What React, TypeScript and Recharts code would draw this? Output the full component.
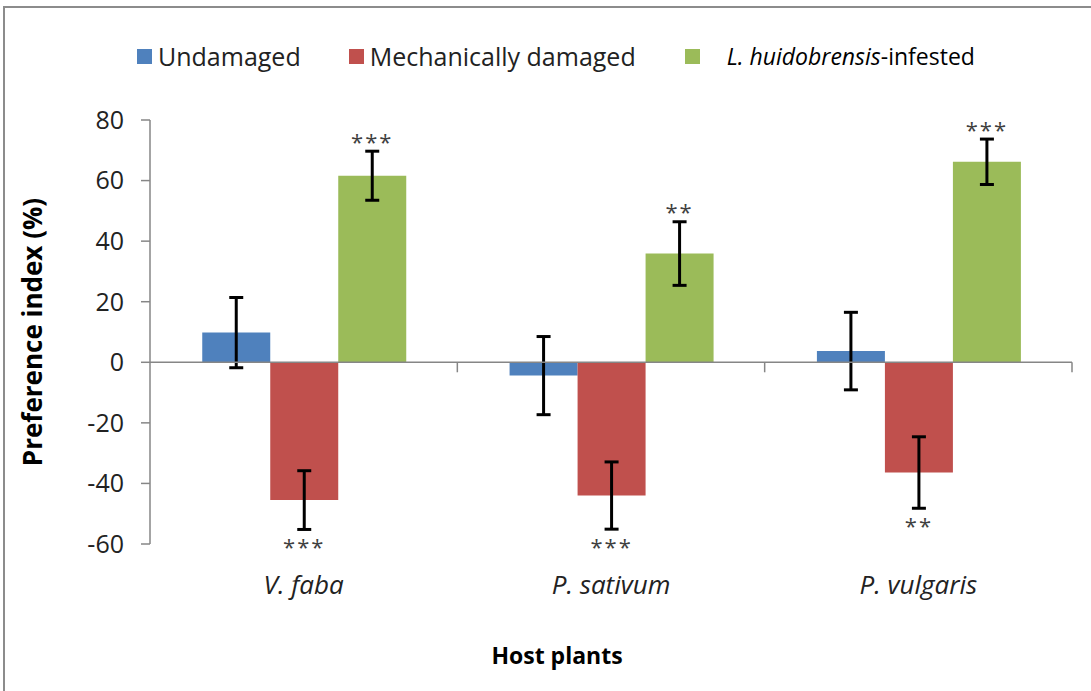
import { BarChart, Bar, XAxis, YAxis, ReferenceLine, ErrorBar, LabelList } from 'recharts'

const hosts = ['V. faba', 'P. sativum', 'P. vulgaris']
const undamaged = [9.8, -4.4, 3.7]
const undamagedErr = [11.6, 12.9, 12.8]
const mechanical = [-45.5, -44.0, -36.4]
const mechanicalErr = [9.7, 11.1, 11.8]
const infested = [61.6, 35.9, 66.2]
const infestedErr = [8.1, 10.5, 7.5]
const mechanicalSig = ['***', '***', '**']
const infestedSig = ['***', '**', '***']
const yTicks = [-60, -40, -20, 0, 20, 40, 60, 80]

const chartData = hosts.map((name, i) => ({
  name,
  undamaged: undamaged[i],
  undamagedErr: undamagedErr[i],
  mechanical: mechanical[i],
  mechanicalErr: mechanicalErr[i],
  mechanicalSig: mechanicalSig[i],
  infested: infested[i],
  infestedErr: infestedErr[i],
  infestedSig: infestedSig[i],
}))

const BLUE = '#4F81BD'
const RED = '#C0504D'
const GREEN = '#9BBB59'
const AXIS = '#868686'
const FONT = '"Open Sans", "Noto Sans", sans-serif'

// stars sit just past the end of the error bar
const starLabel = (vals: number[], errs: number[]) => (props: any) => {
  const vb = props.viewBox || props
  const { x, y, width, height } = vb
  const i = props.index
  if (!props.value || i == null) return null
  const v = vals[i]
  const ppu = Math.abs(height) / Math.abs(v)
  const top = Math.min(y, y + height)
  const bottom = Math.max(y, y + height)
  const center = v > 0 ? top - errs[i] * ppu - 13.5 : bottom + errs[i] * ppu + 13.5
  return (
    <text x={x + width / 2} y={center + 12} textAnchor="middle" fontSize={22} fill="#404040"
      fontFamily={FONT} letterSpacing={2}>
      {props.value}
    </text>
  )
}

const zeroLine = (props: any) => {
  const { x1, y1, x2 } = props
  const step = (x2 - x1) / hosts.length
  return (
    <g>
      <line x1={x1} y1={y1} x2={x2} y2={y1} stroke={AXIS} strokeWidth={1.5} />
      {hosts.map((_, k) => (
        <line key={k} x1={x1 + step * (k + 1)} y1={y1} x2={x1 + step * (k + 1)} y2={y1 + 10}
          stroke={AXIS} strokeWidth={1.5} />
      ))}
    </g>
  )
}

function LegendItem({ color, children, gap }: { color: string; children: any; gap: number }) {
  return (
    <div style={{ display: 'flex', alignItems: 'center' }}>
      <div style={{ width: 15, height: 15, background: color, marginRight: gap }} />
      {children}
    </div>
  )
}

export default function App() {
  return (
    <div style={{ position: 'absolute', left: 0, top: 0, width: 1091, height: 691, background: '#fff', fontFamily: FONT }}>
      <div style={{ position: 'absolute', left: 3, top: 6, right: 0, bottom: 0,
        borderTop: '2px solid #8c8c8c', borderLeft: '2px solid #8c8c8c' }} />
      <div style={{ position: 'absolute', left: 137, top: 38, height: 36, display: 'flex', alignItems: 'center', color: '#222' }}>
        <LegendItem color={BLUE} gap={6}><span style={{ fontSize: 25 }}>Undamaged</span></LegendItem>
        <div style={{ width: 48 }} />
        <LegendItem color={RED} gap={6}><span style={{ fontSize: 25 }}>Mechanically damaged</span></LegendItem>
        <div style={{ width: 49 }} />
        <LegendItem color={GREEN} gap={27}>
          <span style={{ fontSize: 23, color: '#000' }}><i>L. huidobrensis</i>-infested</span>
        </LegendItem>
      </div>
      <BarChart width={1091} height={691} data={chartData} barCategoryGap="17%" barGap={0}
        margin={{ top: 120, right: 19, left: 0, bottom: 17 }}>
        <XAxis dataKey="name" axisLine={false} tickLine={false} tickSize={0} tickMargin={32} height={130}
          tick={{ fontSize: 26, fontStyle: 'italic', fill: '#222', fontFamily: FONT }}
          label={{ value: 'Host plants', position: 'insideBottom', offset: 10, dx: -54,
            style: { fontSize: 23, fontWeight: 700, fill: '#000', fontFamily: FONT } }} />
        <YAxis domain={[-60, 80]} ticks={yTicks} width={150} tickSize={9} tickMargin={17}
          axisLine={{ stroke: AXIS, strokeWidth: 1.5 }} tickLine={{ stroke: AXIS, strokeWidth: 1.5 }}
          tick={{ fontSize: 25, fill: '#222', fontFamily: FONT }}
          label={{ value: 'Preference index (%)', angle: -90, position: 'insideLeft', offset: 33,
            style: { fontSize: 26, fontWeight: 700, fill: '#000', fontFamily: FONT, textAnchor: 'middle' } }} />
        <Bar dataKey="undamaged" fill={BLUE} isAnimationActive={false}>
          <ErrorBar dataKey="undamagedErr" width={7} strokeWidth={3} stroke="#000" />
        </Bar>
        <Bar dataKey="mechanical" fill={RED} isAnimationActive={false}>
          <ErrorBar dataKey="mechanicalErr" width={7} strokeWidth={3} stroke="#000" />
          <LabelList dataKey="mechanicalSig" content={starLabel(mechanical, mechanicalErr)} />
        </Bar>
        <Bar dataKey="infested" fill={GREEN} isAnimationActive={false}>
          <ErrorBar dataKey="infestedErr" width={7} strokeWidth={3} stroke="#000" />
          <LabelList dataKey="infestedSig" content={starLabel(infested, infestedErr)} />
        </Bar>
        <ReferenceLine y={0} shape={zeroLine} />
      </BarChart>
    </div>
  )
}
